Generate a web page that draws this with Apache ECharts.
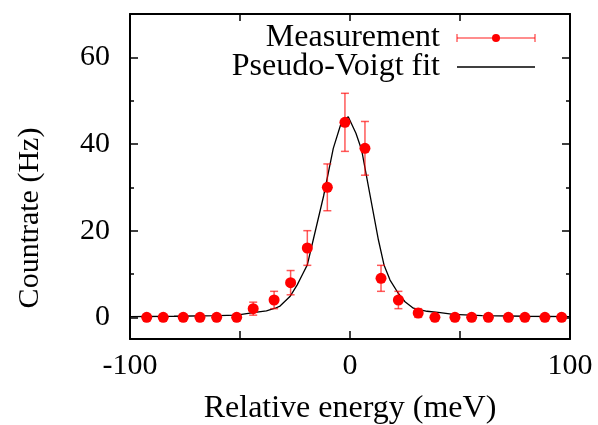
<!DOCTYPE html>
<html>
<head>
<meta charset="utf-8">
<script src="https://cdn.jsdelivr.net/npm/echarts@6/dist/echarts.min.js"></script>
<style>html,body{margin:0;padding:0;background:#fff}#c{width:598px;height:425px}</style>
</head>
<body>
<div id="c"></div>
<script>
// Measurement data
var energy = [-92.4, -84.9, -75.8, -68.2, -60.6, -51.5, -44.0, -34.5, -27.0, -19.4, -10.3, -2.3, 6.8, 14.1, 22.0, 31.0, 38.6, 47.7, 55.3, 62.9, 72.0, 79.5, 88.6, 96.2];
var countrate = [0, 0, 0, 0, 0, 0, 2, 4, 8, 16, 30, 45, 39, 9, 4, 1, 0, 0, 0, 0, 0, 0, 0, 0];
var errors = [0, 0, 0, 0, 0, 0, 1.5, 2, 2.8, 4, 5.4, 6.7, 6.2, 3, 2, 1, 0, 0, 0, 0, 0, 0, 0, 0];
// Fit curve samples
var fitX = [-100, -80, -60, -51.5, -44, -38, -34, -31.8, -27.3, -24, -21.5, -19.4, -16.7, -12, -7.6, -3.8, -0.8, 2.7, 5.3, 9, 12.9, 15.5, 18.2, 22, 25, 28.8, 35, 41, 47, 60, 80, 100];
var fitY = [0.15, 0.25, 0.4, 0.5, 1.1, 1.5, 2.1, 2.6, 4.8, 7.5, 10, 12.1, 17.9, 28, 39, 45.2, 46.3, 42.5, 38.6, 28.5, 17.9, 12, 8.6, 5.5, 3.6, 2.1, 1.4, 1.1, 0.7, 0.4, 0.25, 0.15];
// Ticks
var xLabels = [-100, 0, 100];
var xTicks = [-100, -50, 0, 50, 100];
var yLabels = [0, 20, 40, 60];
var yMajorTicks = [0, 20, 40, 60];
var yMinorTicks = [10, 30, 50, 70];

var FONT = 'Liberation Serif';
var pts = energy.map(function (e, i) { return [e, countrate[i]]; });
var bars = energy.map(function (e, i) { return [e, countrate[i] - errors[i], countrate[i] + errors[i]]; });
var fit = fitX.map(function (x, i) { return [x, fitY[i]]; });

var chart = echarts.init(document.getElementById('c'), null, {renderer: 'canvas'});
var tickStyle = {color: '#000', width: 1.5};
function yAx(pos, ticks, len, showLine, labels) {
  return {
    type: 'value', min: -5, max: 70, position: pos, offset: 0,
    axisLine: {show: showLine, onZero: false, lineStyle: {color: '#000', width: 2}},
    splitLine: {show: false},
    axisTick: {show: true, inside: true, length: len, customValues: ticks, lineStyle: tickStyle},
    axisLabel: labels ? {customValues: labels, color: '#000', fontFamily: FONT, fontSize: 30, margin: 20} : {show: false}
  };
}
chart.setOption({
  animation: false,
  backgroundColor: '#fff',
  grid: {left: 130, right: 28, top: 14, bottom: 86, containLabel: false, outerBoundsMode: 'none'},
  xAxis: [
    {
      type: 'value', min: -100, max: 100, position: 'bottom',
      axisLine: {show: true, onZero: false, lineStyle: {color: '#000', width: 2}},
      splitLine: {show: false},
      axisTick: {show: true, inside: true, length: 8, customValues: xTicks, lineStyle: tickStyle},
      axisLabel: {customValues: xLabels, color: '#000', fontFamily: FONT, fontSize: 30, margin: 12},
      name: 'Relative energy (meV)', nameLocation: 'middle', nameGap: 54,
      nameTextStyle: {color: '#000', fontFamily: FONT, fontSize: 32}
    },
    {
      type: 'value', min: -100, max: 100, position: 'top',
      axisLine: {show: true, onZero: false, lineStyle: {color: '#000', width: 2}},
      splitLine: {show: false},
      axisTick: {show: true, inside: true, length: 7, customValues: xTicks, lineStyle: tickStyle},
      axisLabel: {show: false}
    }
  ],
  yAxis: [
    yAx('left', yMajorTicks, 8, true, yLabels),
    yAx('right', yMajorTicks, 8, true, null),
    yAx('left', yMinorTicks, 4, false, null),
    yAx('right', yMinorTicks, 4, false, null)
  ],
  graphic: [
    {type: 'text', x: 30, y: 218, rotation: Math.PI / 2,
     style: {text: 'Countrate (Hz)', fill: '#000', font: '30px "Liberation Serif"', align: 'center', verticalAlign: 'middle'}},
    {type: 'text', x: 440, y: 38, style: {text: 'Measurement', fill: '#000', font: '32px "Liberation Serif"', align: 'right', verticalAlign: 'middle'}},
    {type: 'text', x: 440, y: 67, style: {text: 'Pseudo-Voigt fit', fill: '#000', font: '32px "Liberation Serif"', align: 'right', verticalAlign: 'middle'}},
    {type: 'line', shape: {x1: 457, y1: 38, x2: 535, y2: 38}, style: {stroke: 'rgba(255,0,0,0.6)', lineWidth: 1.5}},
    {type: 'line', shape: {x1: 457, y1: 34, x2: 457, y2: 42}, style: {stroke: 'rgba(255,0,0,0.6)', lineWidth: 1.5}},
    {type: 'line', shape: {x1: 535, y1: 34, x2: 535, y2: 42}, style: {stroke: 'rgba(255,0,0,0.6)', lineWidth: 1.5}},
    {type: 'circle', shape: {cx: 496, cy: 38, r: 4}, style: {fill: '#f00'}},
    {type: 'line', shape: {x1: 457, y1: 67, x2: 535, y2: 67}, style: {stroke: '#000', lineWidth: 1.3}}
  ],
  series: [
    {
      type: 'line', data: fit, showSymbol: false, smooth: false,
      lineStyle: {color: '#000', width: 1.3}, z: 3
    },
    {
      type: 'custom', data: bars, z: 4,
      renderItem: function (params, api) {
        var x = api.value(0), lo = api.value(1), hi = api.value(2);
        if (hi - lo <= 0) return null;
        var a = api.coord([x, lo]), b = api.coord([x, hi]);
        var st = {stroke: 'rgba(255,0,0,0.65)', lineWidth: 1.5};
        return {type: 'group', children: [
          {type: 'line', shape: {x1: a[0], y1: a[1], x2: b[0], y2: b[1]}, style: st},
          {type: 'line', shape: {x1: a[0] - 4, y1: a[1], x2: a[0] + 4, y2: a[1]}, style: st},
          {type: 'line', shape: {x1: b[0] - 4, y1: b[1], x2: b[0] + 4, y2: b[1]}, style: st}
        ]};
      }
    },
    {
      type: 'scatter', data: pts, symbol: 'circle', symbolSize: 11, z: 5,
      itemStyle: {color: '#f00', opacity: 1}
    }
  ]
});
</script>
</body>
</html>
